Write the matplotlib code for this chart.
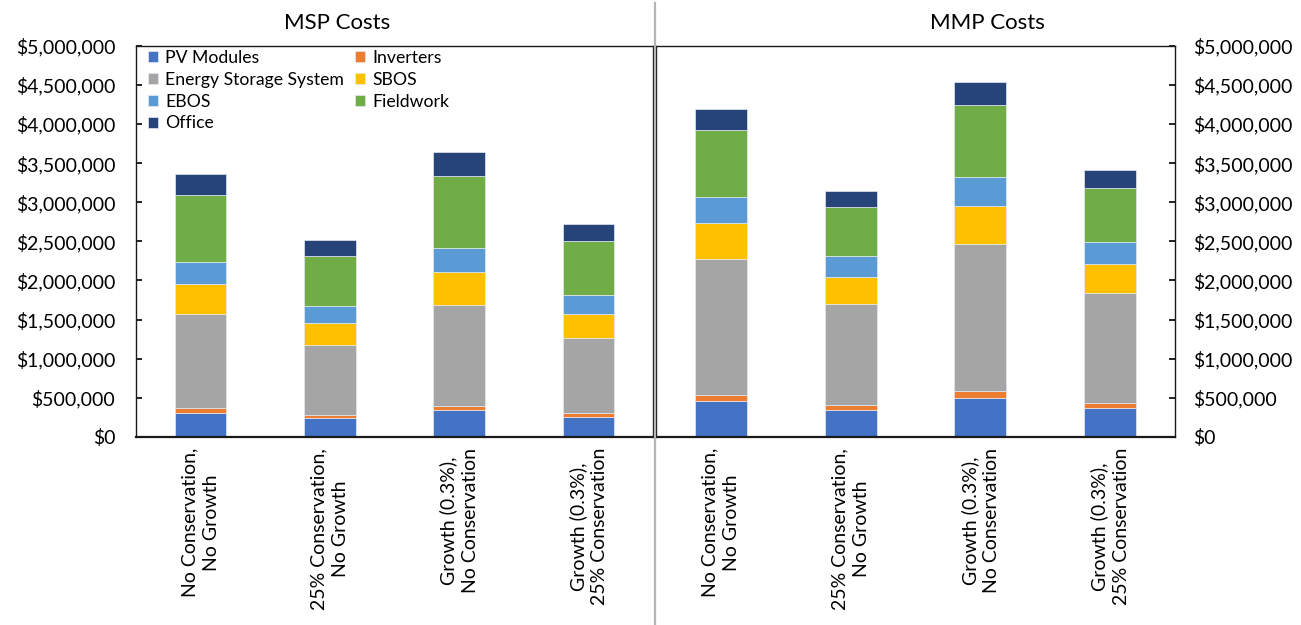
import matplotlib
matplotlib.use("Agg")
import matplotlib.pyplot as plt
from matplotlib.lines import Line2D
from matplotlib.ticker import FuncFormatter, MultipleLocator
import numpy as np

plt.rcParams['font.family'] = ['Lato', 'DejaVu Sans']

categories = ["No Conservation,\nNo Growth", "25% Conservation,\nNo Growth",
              "Growth (0.3%),\nNo Conservation", "Growth (0.3%),\n25% Conservation"]
components = ["PV Modules", "Inverters", "Energy Storage System", "SBOS", "EBOS", "Fieldwork", "Office"]
colors = ["#4472C4", "#ED7D31", "#A5A5A5", "#FFC000", "#5B9BD5", "#70AD47", "#264478"]

# MSP costs per component (rows follow 'components', columns follow 'categories')
msp_pv = [307000, 239000, 341000, 251000]
msp_inverters = [68000, 47000, 60000, 52000]
msp_ess = [1194000, 890000, 1291000, 963000]
msp_sbos = [383000, 286000, 422000, 311000]
msp_ebos = [286000, 213000, 307000, 235000]
msp_fieldwork = [848000, 635000, 908000, 690000]
msp_office = [277000, 209000, 307000, 217000]

# MMP costs per component
mmp_pv = [463000, 348000, 497000, 374000]
mmp_inverters = [77000, 56000, 94000, 64000]
mmp_ess = [1738000, 1300000, 1870000, 1406000]
mmp_sbos = [455000, 344000, 488000, 366000]
mmp_ebos = [340000, 260000, 379000, 280000]
mmp_fieldwork = [845000, 629000, 912000, 689000]
mmp_office = [275000, 208000, 300000, 229000]

msp = [msp_pv, msp_inverters, msp_ess, msp_sbos, msp_ebos, msp_fieldwork, msp_office]
mmp = [mmp_pv, mmp_inverters, mmp_ess, mmp_sbos, mmp_ebos, mmp_fieldwork, mmp_office]

W, H = 1301, 625
DPI = 100
fig = plt.figure(figsize=(W / DPI, H / DPI), dpi=DPI)

def fx(px):
    return px / W

def fy(py):
    return 1 - py / H

ax1 = fig.add_axes([fx(136), fy(437), fx(653) - fx(136), fy(45.7) - fy(437)])
ax2 = fig.add_axes([fx(656), fy(437), fx(1175) - fx(656), fy(45.7) - fy(437)])

money = FuncFormatter(lambda v, p: "${:,.0f}".format(v))
x = np.arange(len(categories))

for ax, data in ((ax1, msp), (ax2, mmp)):
    bottom = np.zeros(len(categories))
    for name, vals, c in zip(components, data, colors):
        ax.bar(x, vals, width=0.4, bottom=bottom, color=c, label=name,
               edgecolor="#e4e9f2", linewidth=0.5)
        bottom += np.array(vals)
    ax.set_xlim(-0.5, 3.5)
    ax.set_ylim(0, 5000000)
    ax.yaxis.set_major_locator(MultipleLocator(500000))
    ax.yaxis.set_major_formatter(money)
    ax.set_xticks(x)
    ax.set_xticklabels(categories, rotation=90, fontsize=14, linespacing=1.3)
    ax.tick_params(axis="x", length=0, pad=8)
    for s in ax.spines.values():
        s.set_color("#1a1a1a")
        s.set_linewidth(1.0)
    ax.spines["bottom"].set_linewidth(1.6)

ax1.tick_params(axis="y", direction="in", length=4, width=1.2, labelsize=14, pad=15)
ax2.yaxis.tick_right()
ax2.tick_params(axis="y", direction="in", length=4, width=1.2, labelsize=14, pad=13,
                left=False, right=True, labelleft=False, labelright=True)

fig.text(fx(337), fy(23), "MSP Costs", ha="center", va="center", fontsize=16)
fig.text(fx(987), fy(23), "MMP Costs", ha="center", va="center", fontsize=16)

handles, labels = ax1.get_legend_handles_labels()
order = [0, 2, 4, 6, 1, 3, 5]
leg = ax1.legend([handles[i] for i in order], [labels[i] for i in order], ncol=2,
                 loc="upper left", bbox_to_anchor=(-0.005, 1.025), frameon=False,
                 fontsize=12.7, handlelength=0.6, handleheight=0.6, handletextpad=0.4,
                 columnspacing=0.6, labelspacing=0.33, borderpad=0.3)

fig.add_artist(Line2D([fx(654.5), fx(654.5)], [0, fy(3)], color="#b5b5b5", linewidth=1.6))

fig.savefig("out.png", dpi=DPI)
